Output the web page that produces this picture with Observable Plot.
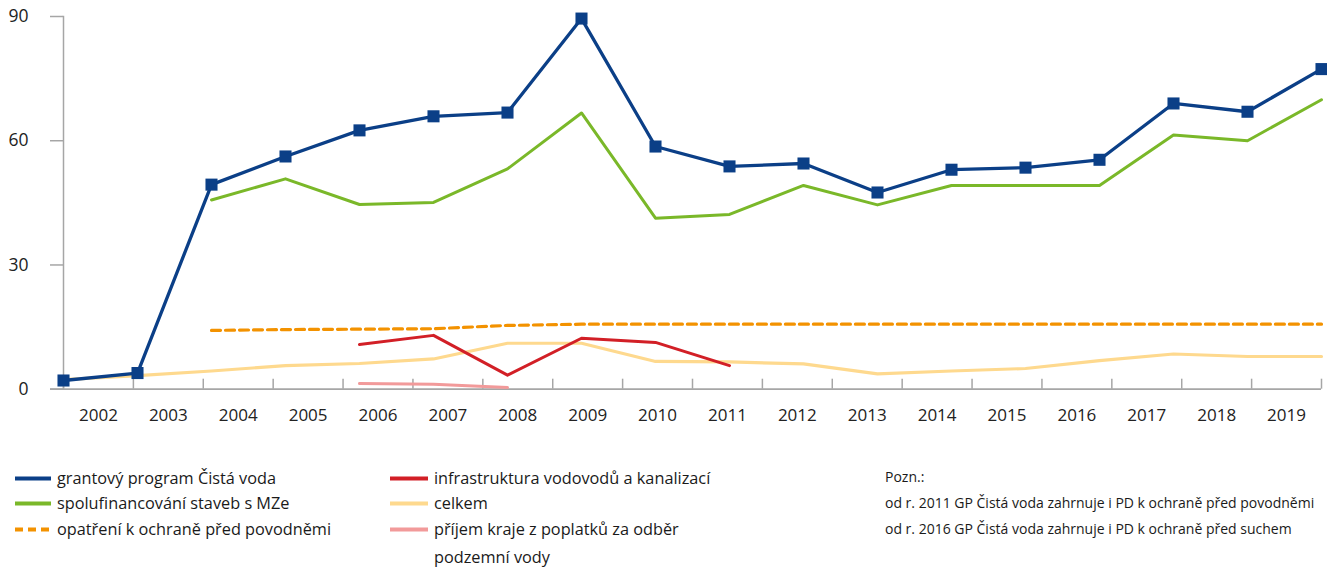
<!DOCTYPE html>
<html>
<head>
<meta charset="utf-8">
<script src="https://cdn.jsdelivr.net/npm/d3@7"></script>
<script src="https://cdn.jsdelivr.net/npm/@observablehq/plot@0.6"></script>
<style>
  html, body { margin: 0; padding: 0; background: #fff; }
  #wrap { position: relative; width: 1327px; height: 569px; font-family: "Open Sans", sans-serif; color: #1a1a1a; }
  #chart { position: absolute; left: 0; top: 0; }
  .leg { position: absolute; font-size: 16.3px; line-height: 20px; white-space: nowrap; }
  .leg svg { position: absolute; left: 0; top: 0; }
  .leg span { position: absolute; top: 0; }
  .note { position: absolute; font-size: 14px; white-space: nowrap; line-height: 20px; }
</style>
</head>
<body>
<div id="wrap">
  <div id="chart"></div>
  <div id="legend"></div>
</div>
<script>
const years = [2002, 2003, 2004, 2005, 2006, 2007, 2008, 2009, 2010, 2011, 2012, 2013, 2014, 2015, 2016, 2017, 2018, 2019];
const grantovy = [2.1, 3.9, 49.4, 56.2, 62.5, 65.9, 66.8, 89.5, 58.6, 53.8, 54.5, 47.5, 53.0, 53.5, 55.4, 69.0, 67.0, 77.3];
const spolufinancovani = [null, null, 45.7, 50.8, 44.6, 45.1, 53.2, 66.7, 41.3, 42.2, 49.2, 44.5, 49.2, 49.2, 49.2, 61.4, 60.0, 69.9];
const povodne = [null, null, 14.2, 14.4, 14.5, 14.6, 15.4, 15.7, 15.7, 15.7, 15.7, 15.7, 15.7, 15.7, 15.7, 15.7, 15.7, 15.7];
const infrastruktura = [null, null, null, null, 10.8, 13.0, 3.4, 12.3, 11.3, 5.7, null, null, null, null, null, null, null, null];
const celkem = [2.3, 3.3, 4.4, 5.7, 6.2, 7.3, 11.1, 11.1, 6.7, 6.6, 6.1, 3.7, 4.4, 5.0, 6.9, 8.5, 7.9, 7.9];
const prijem = [null, null, null, null, 1.4, 1.2, 0.4, null, null, null, null, null, null, null, null, null, null, null];
const yTicks = [0, 30, 60, 90];

const seriesNames = [
  "grantový program Čistá voda",
  "spolufinancování staveb s MZe",
  "opatření k ochraně před povodněmi",
  "infrastruktura vodovodů a kanalizací",
  "celkem",
  "příjem kraje z poplatků za odběr podzemní vody"
];
const colors = {
  blue: "#0b3f87",
  green: "#7ab829",
  orange: "#f39200",
  red: "#d21f26",
  yellow: "#fed98e",
  pink: "#f29a9a"
};
const noteLines = [
  "Pozn.:",
  "od r. 2011 GP Čistá voda zahrnuje i PD k ochraně před povodněmi",
  "od r. 2016 GP Čistá voda zahrnuje i PD k ochraně před suchem"
];

// category axis: evenly spaced ticks (n+1) across the span of the years, labels between them
const x0 = years[0], x1 = years[years.length - 1];
const nCat = years.length;
const step = (x1 - x0) / nCat;
const xTicks = d3.range(nCat + 1).map(j => x0 + j * step);
const xLabelPos = years.map((y, j) => x0 + (j + 0.5) * step);

const axisGray = "#a6a6a6";

const chart = Plot.plot({
  width: 1327,
  height: 440,
  marginLeft: 63,
  marginRight: 6,
  marginTop: 16,
  marginBottom: 51.3,
  style: { fontFamily: "Open Sans, sans-serif", fontSize: "17px", color: "#222", background: "#fff" },
  x: { domain: [x0, x1], axis: null },
  y: { domain: [0, 90], axis: null },
  marks: [
    Plot.axisY({ ticks: yTicks, tickSize: 13, tickPadding: 22, stroke: axisGray, fontSize: 17.5, fill: "#222", strokeWidth: 1.5 }),
    Plot.frame({ anchor: "left", stroke: axisGray, strokeWidth: 1.5 }),
    Plot.ruleY([0], { stroke: axisGray, strokeWidth: 1.8, insetLeft: -13 }),
    Plot.ruleX(xTicks, { x: d => d, y1: 0, y2: 0, insetBottom: 10, stroke: axisGray, strokeWidth: 1.5 }),
    Plot.text(years, { x: (d, i) => xLabelPos[i], y: 0, dy: 26, text: d => String(d), fontSize: 17, fill: "#222" }),
    Plot.line(years, { x: d => d, y: celkem, stroke: colors.yellow, strokeWidth: 3.2 }),
    Plot.line(years, { x: d => d, y: prijem, stroke: colors.pink, strokeWidth: 3 }),
    Plot.line(years, { x: d => d, y: povodne, stroke: colors.orange, strokeWidth: 3.2, strokeDasharray: "9,5" }),
    Plot.line(years, { x: d => d, y: infrastruktura, stroke: colors.red, strokeWidth: 3 }),
    Plot.line(years, { x: d => d, y: spolufinancovani, stroke: colors.green, strokeWidth: 3 }),
    Plot.line(years, { x: d => d, y: grantovy, stroke: colors.blue, strokeWidth: 3.3 }),
    Plot.dot(years, { x: d => d, y: grantovy, symbol: "square", r: 6.8, fill: colors.blue, stroke: "none" })
  ]
});
document.getElementById("chart").appendChild(chart);

// legend
const legendItems = [
  { name: seriesNames[0], color: colors.blue, dash: null, col: 0, row: 0 },
  { name: seriesNames[1], color: colors.green, dash: null, col: 0, row: 1 },
  { name: seriesNames[2], color: colors.orange, dash: "8,5", col: 0, row: 2 },
  { name: seriesNames[3], color: colors.red, dash: null, col: 1, row: 0 },
  { name: seriesNames[4], color: colors.yellow, dash: null, col: 1, row: 1 },
  { name: seriesNames[5], color: colors.pink, dash: null, col: 1, row: 2 }
];
const colX = [15, 390];
const swW = [36, 38];
const rowY = [468, 493, 519];
const leg = document.getElementById("legend");
legendItems.forEach(it => {
  const d = document.createElement("div");
  d.className = "leg";
  d.style.left = colX[it.col] + "px";
  d.style.top = rowY[it.row] + "px";
  const w = swW[it.col];
  d.innerHTML = `<svg width="${w}" height="20"><line x1="0" x2="${w}" y1="10.5" y2="10.5" stroke="${it.color}" stroke-width="4" ${it.dash ? `stroke-dasharray="${it.dash}"` : ""}/></svg>`;
  const s = document.createElement("span");
  s.style.left = (w + 6) + "px";
  if (it.name.startsWith("příjem")) {
    s.innerHTML = "příjem kraje z poplatků za odběr<br>podzemní vody";
    s.style.lineHeight = "28px";
    s.style.top = "-4px";
  } else {
    s.textContent = it.name;
  }
  d.appendChild(s);
  leg.appendChild(d);
});
noteLines.forEach((t, i) => {
  const d = document.createElement("div");
  d.className = "note";
  d.style.left = "885px";
  d.style.top = (467 + i * 26) + "px";
  d.textContent = t;
  leg.appendChild(d);
});
</script>
</body>
</html>
